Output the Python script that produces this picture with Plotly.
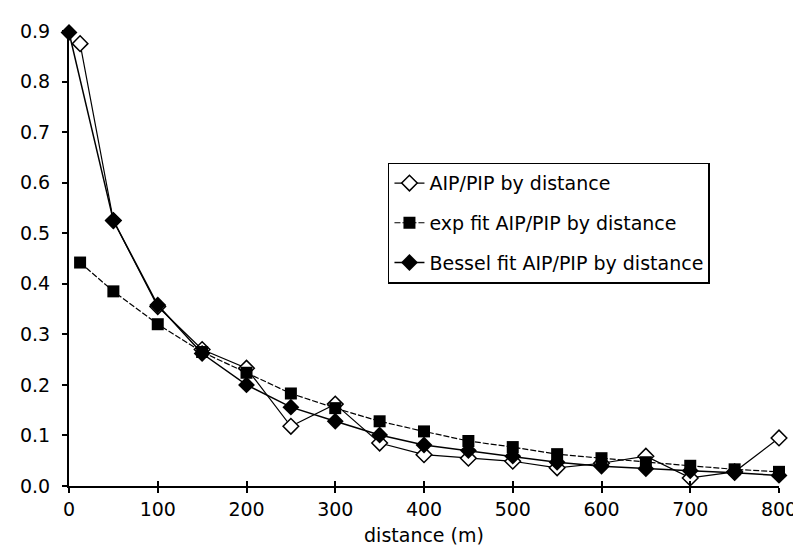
import plotly.graph_objects as go

distance_obs = [12.5, 50, 100, 150, 200, 250, 300, 350, 400, 450, 500, 550, 600, 650, 700, 750, 800]
aip_pip = [0.875, 0.525, 0.355, 0.27, 0.233, 0.118, 0.162, 0.085, 0.062, 0.055, 0.049, 0.036, 0.045, 0.059, 0.016, 0.028, 0.095]

distance_exp = [12.5, 50, 100, 150, 200, 250, 300, 350, 400, 450, 500, 550, 600, 650, 700, 750, 800]
exp_fit = [0.442, 0.385, 0.32, 0.265, 0.224, 0.183, 0.154, 0.128, 0.108, 0.089, 0.077, 0.063, 0.055, 0.047, 0.040, 0.033, 0.028]

distance_bes = [0, 50, 100, 150, 200, 250, 300, 350, 400, 450, 500, 550, 600, 650, 700, 750, 800]
bessel_fit = [0.897, 0.525, 0.358, 0.262, 0.2, 0.156, 0.128, 0.101, 0.081, 0.07, 0.059, 0.047, 0.039, 0.034, 0.03, 0.026, 0.021]

series_names = ["AIP/PIP by distance", "exp fit AIP/PIP by distance", "Bessel fit AIP/PIP by distance"]

x_ticks = [0, 100, 200, 300, 400, 500, 600, 700, 800]
y_ticks = [0.0, 0.1, 0.2, 0.3, 0.4, 0.5, 0.6, 0.7, 0.8, 0.9]

FONT = "DejaVu Sans"

fig = go.Figure()
fig.add_trace(go.Scatter(
    x=distance_obs, y=aip_pip, name=series_names[0], mode="lines+markers",
    line=dict(color="black", width=1.2),
    marker=dict(symbol="diamond", size=12, color="white", line=dict(color="black", width=1.5)),
    legendgroup="a", cliponaxis=False))
fig.add_trace(go.Scatter(
    x=distance_exp, y=exp_fit, name=series_names[1], mode="lines+markers",
    line=dict(color="black", width=1.2, dash="6px,2px"),
    marker=dict(symbol="square", size=12, color="black"),
    legendgroup="b", cliponaxis=False))
fig.add_trace(go.Scatter(
    x=distance_bes, y=bessel_fit, name=series_names[2], mode="lines+markers",
    line=dict(color="black", width=1.5),
    marker=dict(symbol="diamond", size=13, color="black"),
    legendgroup="c", cliponaxis=False))
# invisible trace to draw inward half of crossing x ticks
fig.add_trace(go.Scatter(x=[0], y=[0], xaxis="x2", mode="markers",
                         marker=dict(opacity=0), showlegend=False, hoverinfo="skip"))

fig.update_layout(
    width=801, height=547,
    margin=dict(l=60, r=22, t=22, b=69),
    paper_bgcolor="white", plot_bgcolor="white",
    font=dict(family=FONT, size=19, color="black"),
    showlegend=True,
    legend=dict(
        x=(383 - 60) / 719, y=(478 - 154) / 456, xanchor="left", yanchor="top",
        bordercolor="black", borderwidth=1.5, bgcolor="white",
        font=dict(family=FONT, size=19, color="black"),
        tracegroupgap=12, itemwidth=30,
    ),
    xaxis=dict(
        range=[0, 800], tickvals=x_ticks, ticktext=[str(v) for v in x_ticks],
        showgrid=False, zeroline=False, showline=True, linecolor="black", linewidth=2,
        ticks="outside", ticklen=5, tickwidth=1.5, tickcolor="black",
        tickfont=dict(family=FONT, size=19),
        title=dict(text="distance (m)", font=dict(family=FONT, size=19), standoff=10),
    ),
    xaxis2=dict(
        range=[0, 800], overlaying="x", anchor="y", side="bottom",
        tickvals=x_ticks, showticklabels=False, showgrid=False, zeroline=False,
        showline=False, ticks="inside", ticklen=5, tickwidth=1.5, tickcolor="black",
    ),
    yaxis=dict(
        range=[0, 0.9], tickvals=y_ticks, ticktext=[f"{v:.1f}" for v in y_ticks],
        showgrid=False, zeroline=False, showline=True, linecolor="black", linewidth=2,
        ticks="outside", ticklen=5, tickwidth=1.5, tickcolor="black",
        tickfont=dict(family=FONT, size=19), ticklabelstandoff=8,
    ),
)

fig.write_html("out.html")
